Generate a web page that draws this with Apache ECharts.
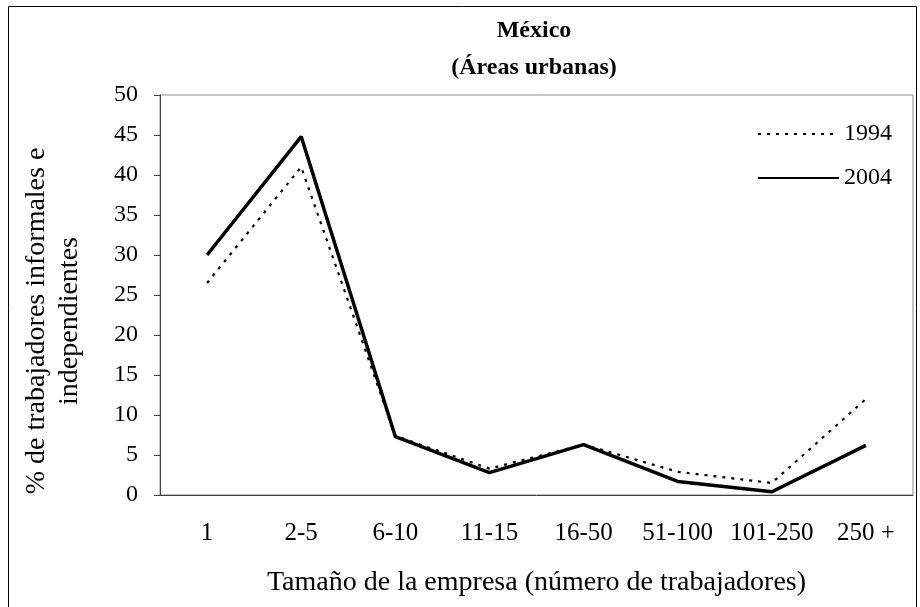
<!DOCTYPE html>
<html>
<head>
<meta charset="utf-8">
<script src="https://cdn.jsdelivr.net/npm/echarts@6/dist/echarts.min.js"></script>
<style>
  html, body { margin: 0; padding: 0; background: #fff; }
  #chart { width: 920px; height: 607px; }
</style>
</head>
<body>
<div id="chart"></div>
<script>
// Tamaño de la empresa
const categories = ['1', '2-5', '6-10', '11-15', '16-50', '51-100', '101-250', '250 +'];
const serie1994 = [26.5, 41, 7.4, 3.3, 6.3, 2.9, 1.5, 12];
const serie2004 = [30, 44.8, 7.3, 2.8, 6.3, 1.7, 0.4, 6.2];

const font = '"Liberation Serif", "Times New Roman", serif';

const chart = echarts.init(document.getElementById('chart'));
chart.setOption({
    backgroundColor: '#fff',
    animation: false,
    textStyle: { fontFamily: font, color: '#000' },
    title: {
        text: 'México\n(Áreas urbanas)',
        left: 534,
        top: 12,
        textAlign: 'center',
        padding: 0,
        textStyle: { fontFamily: font, fontSize: 24, fontWeight: 'bold', lineHeight: 37, color: '#000' }
    },
    legend: {
        orient: 'vertical',
        left: 757,
        top: 122,
        padding: 0,
        itemWidth: 81,
        itemHeight: 14,
        itemGap: 20,
        itemStyle: { opacity: 0 },
        textStyle: { fontFamily: font, fontSize: 24, lineHeight: 24, color: '#000' },
        data: ['1994', '2004']
    },
    grid: {
        left: 160, right: 7, top: 95, bottom: 112,
        outerBoundsMode: 'none',
        containLabel: false,
        show: true, borderColor: '#8c8c8c', borderWidth: 1
    },
    xAxis: {
        type: 'category',
        data: categories,
        boundaryGap: true,
        axisLine: { lineStyle: { color: '#404040', width: 1 } },
        axisTick: { interval: 0, length: 7, lineStyle: { color: '#404040' } },
        axisLabel: { interval: 0, fontFamily: font, fontSize: 25, color: '#000', margin: 26 },
        name: 'Tamaño de la empresa (número de trabajadores)',
        nameLocation: 'middle',
        nameGap: 74,
        nameTextStyle: { fontFamily: font, fontSize: 28, color: '#000' }
    },
    yAxis: {
        type: 'value',
        min: 0, max: 50, interval: 5,
        splitLine: { show: false },
        axisLine: { show: true, lineStyle: { color: '#404040', width: 1 } },
        axisTick: { show: true, length: 6, lineStyle: { color: '#404040' } },
        axisLabel: { fontFamily: font, fontSize: 24, color: '#000', margin: 22 },
        name: '% de trabajadores informales e\nindependientes',
        nameLocation: 'middle',
        nameGap: 74,
        nameTextStyle: { fontFamily: font, fontSize: 28, color: '#000', lineHeight: 33, padding: [0, 52, 0, 0] }
    },
    series: [
        {
            name: '1994',
            type: 'line',
            data: serie1994,
            symbol: 'none',
            lineStyle: { color: '#000', width: 2.2, type: [3, 6] },
            itemStyle: { color: '#000' }
        },
        {
            name: '2004',
            type: 'line',
            data: serie2004,
            symbol: 'none',
            lineStyle: { color: '#000', width: 3.5 },
            itemStyle: { color: '#000' }
        }
    ],
    graphic: [{
        type: 'rect',
        shape: { x: 8.5, y: 6.5, width: 908, height: 620 },
        style: { fill: 'none', stroke: '#000', lineWidth: 1 },
        silent: true
    }]
});
window.addEventListener('resize', () => chart.resize());
</script>
</body>
</html>
